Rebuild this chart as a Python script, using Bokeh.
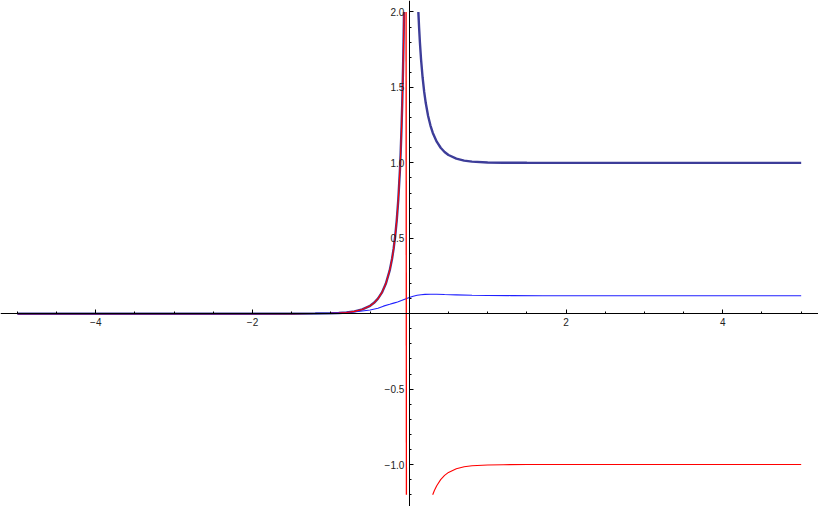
from bokeh.plotting import figure
from bokeh.models import Range1d, FixedTicker
from bokeh.embed import file_html
from bokeh.resources import INLINE

# ---- data ----
# left branch (x < 0), shared by the red and dark-blue curves
left_x = [-5.0, -3.0, -2.0, -1.5, -1.2, -1.0, -0.9, -0.8, -0.7, -0.6, -0.5, -0.45, -0.4,
          -0.35, -0.3, -0.25, -0.22, -0.2, -0.18, -0.16, -0.14, -0.12, -0.11, -0.10,
          -0.09, -0.08, -0.075, -0.0676]
left_y = [0.0, 0.0, 0.0, 0.0001, 0.0008, 0.0025, 0.0045, 0.0083, 0.0152, 0.0281, 0.0524,
          0.072, 0.0998, 0.1395, 0.198, 0.287, 0.3645, 0.431, 0.514, 0.620, 0.760, 0.949,
          1.070, 1.217, 1.397, 1.623, 1.760, 2.0]

# dark blue, right branch
blue_r_x = [0.1155, 0.125, 0.135, 0.15, 0.17, 0.19, 0.21, 0.24, 0.27, 0.30, 0.35, 0.4,
            0.45, 0.5, 0.6, 0.7, 0.8, 1.0, 1.2, 1.5, 2.0, 3.0, 4.0, 5.0]
blue_r_y = [2.0, 1.895, 1.801, 1.685, 1.564, 1.470, 1.396, 1.310, 1.247, 1.198, 1.140,
            1.100, 1.072, 1.052, 1.028, 1.015, 1.008, 1.0025, 1.0008, 1.0001, 1.0, 1.0,
            1.0, 1.0]

# red, right branch
red_r_x = [0.2986, 0.32, 0.35, 0.4, 0.45, 0.5, 0.6, 0.7, 0.8, 1.0, 1.2, 1.5, 2.0, 3.0,
           4.0, 5.0]
red_r_y = [-1.2, -1.172, -1.140, -1.100, -1.072, -1.052, -1.028, -1.015, -1.008, -1.0025,
           -1.0008, -1.0001, -1.0, -1.0, -1.0, -1.0]

# red, jump across the pole
red_jump_x = [-0.041, -0.037]
red_jump_y = [2.0, -1.2]

# light blue curve
light_x = [-5.0, -3.0, -2.0, -1.5, -1.2, -1.0, -0.8, -0.65, -0.5, -0.4, -0.33, -0.25,
           -0.2, -0.15, -0.1, -0.05, 0.0, 0.05, 0.1, 0.15, 0.2, 0.27, 0.35, 0.45, 0.6,
           0.8, 1.0, 1.3, 1.7, 2.5, 3.5, 5.0]
light_y = [0.0, 0.0, 0.0, 0.001, 0.002, 0.004, 0.009, 0.015, 0.024, 0.036, 0.05, 0.062,
           0.07, 0.078, 0.087, 0.097, 0.107, 0.116, 0.122, 0.126, 0.128, 0.129, 0.129,
           0.127, 0.125, 0.122, 0.121, 0.120, 0.119, 0.119, 0.119, 0.119]

x_major = [-4, -2, 2, 4]
x_minor = [-5, -4.5, -4, -3.5, -3, -2.5, -2, -1.5, -1, -0.5, 0.5, 1, 1.5, 2, 2.5, 3,
           3.5, 4, 4.5, 5]
x_labels = ["−4", "−2", "2", "4"]
y_major = [-1.0, -0.5, 0.5, 1.0, 1.5, 2.0]
y_minor = [-1.2, -1.1, -1.0, -0.9, -0.8, -0.7, -0.6, -0.5, -0.4, -0.3, -0.2, -0.1, 0.1,
           0.2, 0.3, 0.4, 0.5, 0.6, 0.7, 0.8, 0.9, 1.0, 1.1, 1.2, 1.3, 1.4, 1.5, 1.6,
           1.7, 1.8, 1.9, 2.0]
y_labels = ["−1.0", "−0.5", "0.5", "1.0", "1.5", "2.0"]

p = figure(width=818, height=506, output_backend="svg", toolbar_location=None,
           x_range=Range1d(-5.216, 5.221), y_range=Range1d(-1.278, 2.076),
           min_border=0, min_border_left=0, min_border_right=0,
           min_border_top=0, min_border_bottom=0)
p.outline_line_color = None
p.grid.visible = False
p.background_fill_color = "white"
p.border_fill_color = "white"

dark = "#3d3d99"
p.line(left_x, left_y, line_color=dark, line_width=2.4)
p.line(blue_r_x, blue_r_y, line_color=dark, line_width=2.4)
p.line(light_x, light_y, line_color="#2020ff", line_width=1.1)
p.line(left_x, left_y, line_color="#ff0000", line_width=1.1)
p.line(red_jump_x, red_jump_y, line_color="#ff0000", line_width=1.3)
p.line(red_r_x, red_r_y, line_color="#ff0000", line_width=1.1)

font = "Liberation Sans"
xa = p.xaxis[0]
xa.fixed_location = 0
xa.ticker = FixedTicker(ticks=x_major, minor_ticks=x_minor)
xa.major_label_overrides = {t: s for t, s in zip(x_major, x_labels)}
xa.major_tick_in = 4
xa.major_tick_out = 0
xa.minor_tick_in = 2
xa.minor_tick_out = 0
xa.major_label_standoff = 4
xa.major_label_text_font = font
xa.major_label_text_font_size = "10px"
xa.major_label_text_color = "#222222"
xa.axis_line_color = "black"

ya = p.yaxis[0]
ya.fixed_location = 0
ya.ticker = FixedTicker(ticks=y_major, minor_ticks=y_minor)
ya.major_label_overrides = {t: s for t, s in zip(y_major, y_labels)}
ya.major_tick_in = 4
ya.major_tick_out = 0
ya.minor_tick_in = 2
ya.minor_tick_out = 0
ya.major_label_standoff = 5
ya.major_label_text_font = font
ya.major_label_text_font_size = "10px"
ya.major_label_text_color = "#222222"
ya.axis_line_color = "black"

open("out.html", "w").write(file_html(p, INLINE))
